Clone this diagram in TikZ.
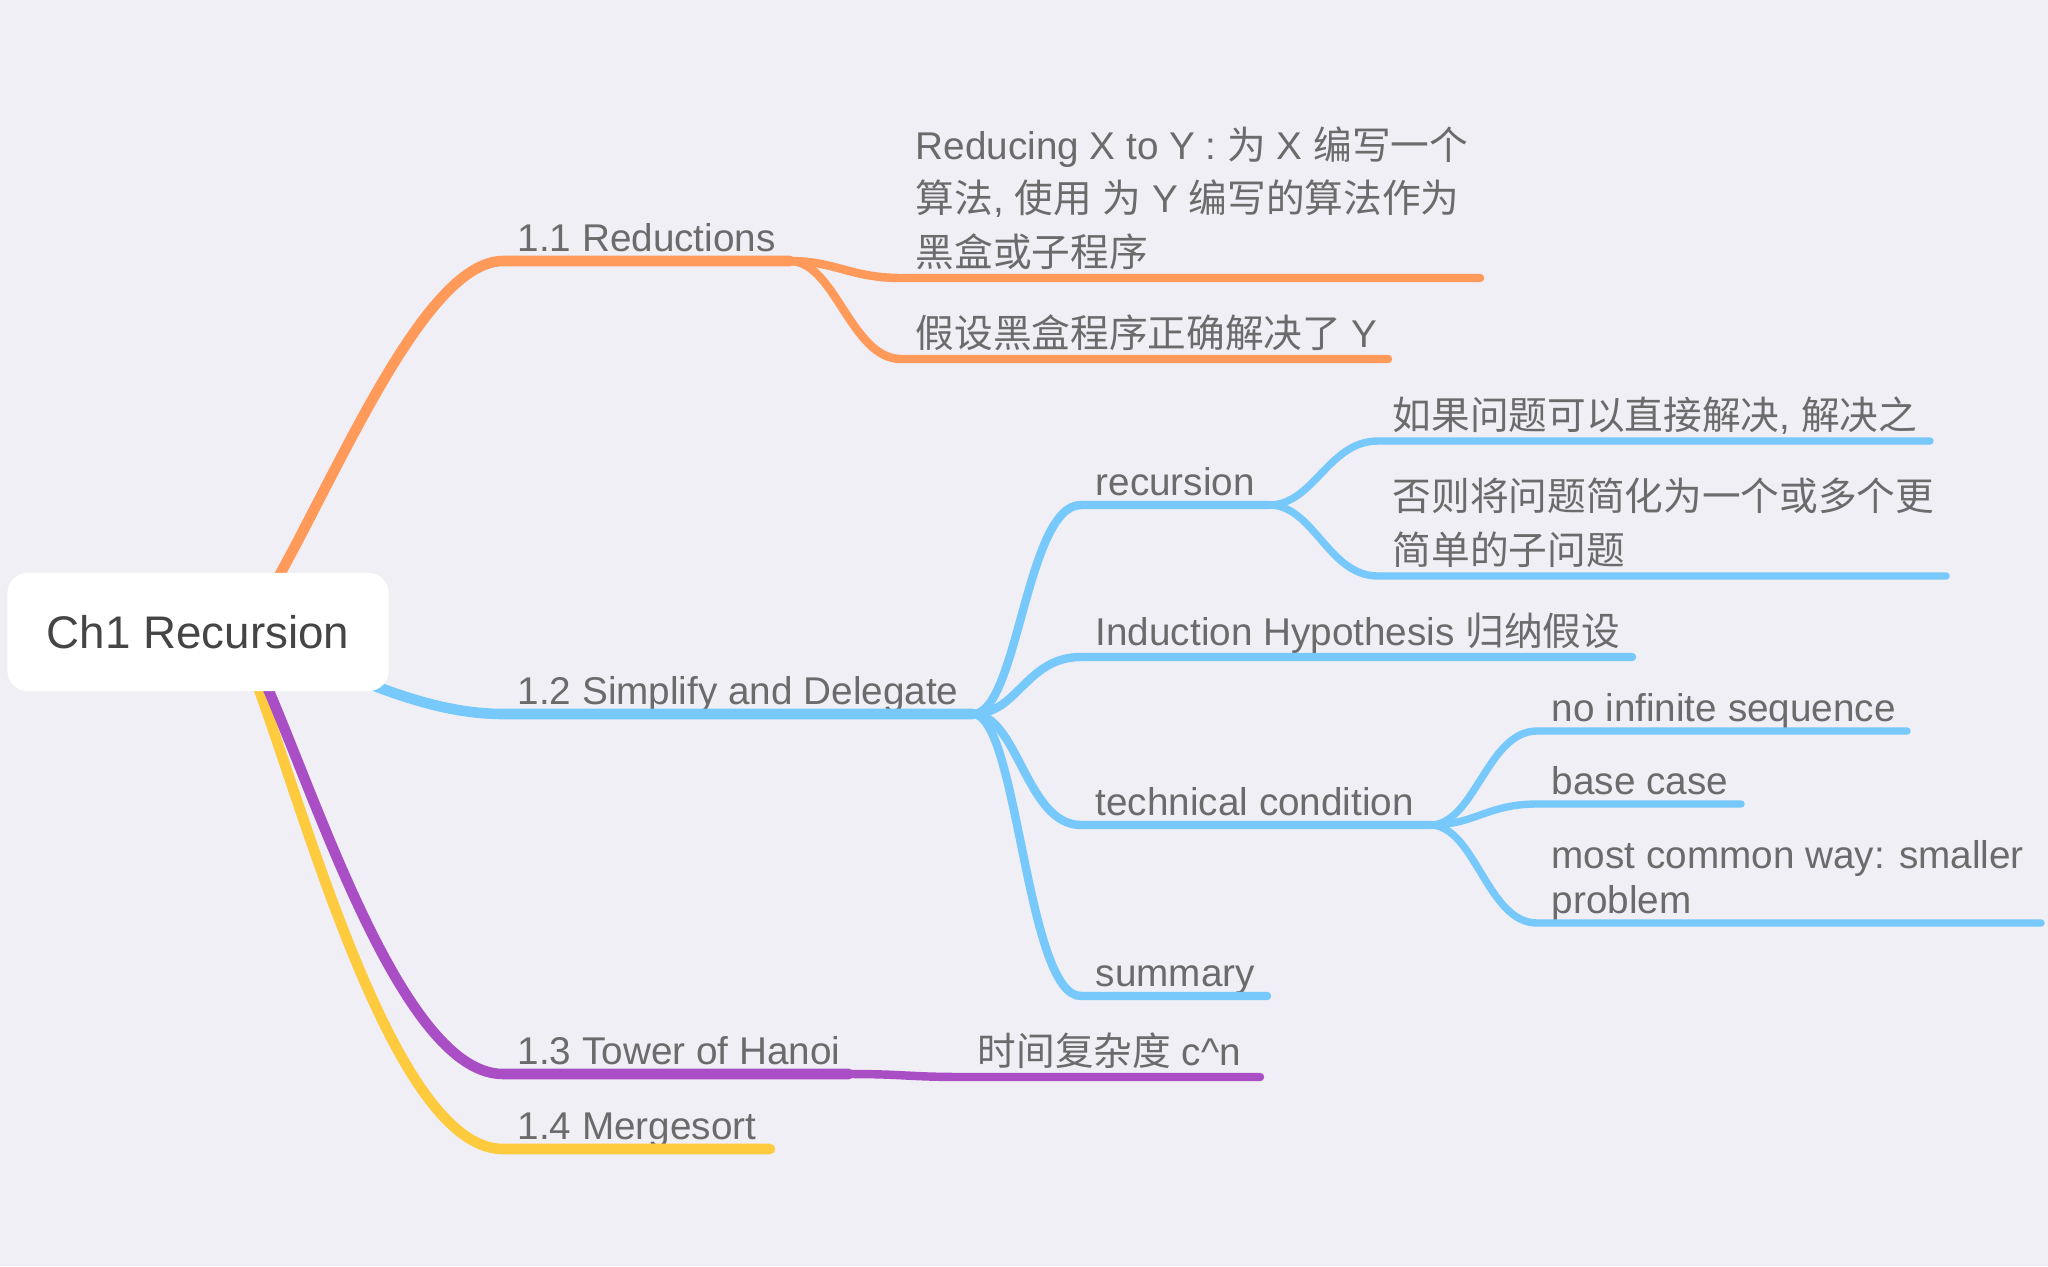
\documentclass[tikz,border=0pt]{standalone}
\usepackage{fontspec}
\setmainfont{Liberation Sans}
\newfontfamily\cjk{Noto Sans CJK SC}
\newcommand{\zh}[1]{{\cjk #1}}
\definecolor{bgc}{HTML}{EFEFF5}
\definecolor{txt}{HTML}{6B6B6B}
\definecolor{rootc}{HTML}{454545}
\definecolor{orng}{HTML}{FF9A5A}
\definecolor{blu}{HTML}{77C8FB}
\definecolor{purp}{HTML}{AA4EC6}
\definecolor{yell}{HTML}{FFCB3E}

\begin{document}
\begin{tikzpicture}[x=0.01cm,y=-0.01cm,
    root/.style={fill=white, rounded corners=0.2cm, minimum width=3.81cm, minimum height=1.18cm,
                 font=\fontsize{13}{15}\selectfont, text=rootc},
    topic/.style={anchor=south west, inner xsep=0.14cm, inner ysep=0pt, text depth=0.085cm,
                  align=left, text=txt, font=\fontsize{11}{15.2}\selectfont},
    zhtopic/.style={topic, text depth=0.11cm},
    trunk/.style={line width=3pt, line cap=round},
    twig/.style={line width=2.4pt, line cap=round},
    leaf/.style={line width=2.1pt, line cap=round}]
    \useasboundingbox (0,0) rectangle (2048,1266);
    \fill[bgc] (0,0) rectangle (2048,1266);
    \coordinate (rc) at (198,632);
    % Place nodes
    \node[topic] (n11) at (503,261) {1.1 Reductions};
    \node[zhtopic] (n11a) at (901,278) {Reducing X to Y : \zh{为} X \zh{编写一个}\\
        \zh{算法}, \zh{使用} \zh{为} Y \zh{编写的算法作为}\\
        \zh{黑盒或子程序}};
    \node[zhtopic] (n11b) at (901,359) {\zh{假设黑盒程序正确解决了} Y};
    \node[topic] (n12) at (503,714) {1.2 Simplify and Delegate};
    \node[topic] (rec) at (1081,505) {recursion};
    \node[zhtopic] (rec1) at (1378,441) {\zh{如果问题可以直接解决}, \zh{解决之}};
    \node[zhtopic] (rec2) at (1378,576) {\zh{否则将问题简化为一个或多个更}\\
        \zh{简单的子问题}};
    \node[zhtopic] (ind) at (1081,657) {Induction Hypothesis \zh{归纳假设}};
    \node[topic] (tech) at (1081,825) {technical condition};
    \node[topic] (tc1) at (1537,731) {no infinite sequence};
    \node[topic] (tc2) at (1537,804) {base case};
    \node[topic, font=\fontsize{11}{12.8}\selectfont] (tc3) at (1537,923) {most common way: smaller\\problem};
    \node[topic] (summ) at (1081,996) {summary};
    \node[topic] (n13) at (503,1074) {1.3 Tower of Hanoi};
    \node[zhtopic] (n13a) at (963,1077) {\zh{时间复杂度} c\textasciicircum n};
    \node[topic] (n14) at (503,1149) {1.4 Mergesort};
    % line ends
    \coordinate (e-n11) at (790,261);
    \coordinate (e-n11a) at (1480,278);
    \coordinate (e-n11b) at (1388,359);
    \coordinate (e-n12) at (973,714);
    \coordinate (e-rec) at (1269,505);
    \coordinate (e-rec1) at (1930,441);
    \coordinate (e-rec2) at (1946,576);
    \coordinate (e-ind) at (1632,657);
    \coordinate (e-tech) at (1430,825);
    \coordinate (e-tc1) at (1907,731);
    \coordinate (e-tc2) at (1741,804);
    \coordinate (e-tc3) at (2041,923);
    \coordinate (e-summ) at (1267,996);
    \coordinate (e-n13) at (849,1074);
    \coordinate (e-n13a) at (1260,1077);
    \coordinate (e-n14) at (770,1149);
    % Draw edges
    \draw[trunk,yell] ([shift={(40,8)}]rc) .. controls +(45,80) and +(-123,0) .. (n14.south west) -- (e-n14);
    \draw[trunk,purp] ([shift={(46,8)}]rc) .. controls +(50,80) and +(-113,0) .. (n13.south west) -- (e-n13);
    \draw[twig,purp] (e-n13) .. controls +(55,0) and +(-55,0) .. (n13a.south west) -- (e-n13a);
    \draw[trunk,orng] ([shift={(40,8)}]rc) .. controls +(67,-80) and +(-93,0) .. (n11.south west) -- (e-n11);
    \draw[twig,orng] (e-n11) .. controls +(45,0) and +(-50,0) .. (n11a.south west) -- (e-n11a);
    \draw[twig,orng] (e-n11) .. controls +(45,0) and +(-50,0) .. (n11b.south west) -- (e-n11b);
    \draw[trunk,blu] ([shift={(102,23)}]rc) .. controls +(60,25) and +(-73,0) .. (n12.south west) -- (e-n12);
    \draw[twig,blu] (e-n12) .. controls +(45,0) and +(-55,0) .. (rec.south west) -- (e-rec);
    \draw[twig,blu] (e-n12) .. controls +(45,0) and +(-55,0) .. (ind.south west) -- (e-ind);
    \draw[twig,blu] (e-n12) .. controls +(45,0) and +(-55,0) .. (tech.south west) -- (e-tech);
    \draw[twig,blu] (e-n12) .. controls +(45,0) and +(-55,0) .. (summ.south west) -- (e-summ);
    \draw[leaf,blu] (e-rec) .. controls +(45,0) and +(-50,0) .. (rec1.south west) -- (e-rec1);
    \draw[leaf,blu] (e-rec) .. controls +(45,0) and +(-50,0) .. (rec2.south west) -- (e-rec2);
    \draw[leaf,blu] (e-tech) .. controls +(45,0) and +(-50,0) .. (tc1.south west) -- (e-tc1);
    \draw[leaf,blu] (e-tech) .. controls +(45,0) and +(-50,0) .. (tc2.south west) -- (e-tc2);
    \draw[leaf,blu] (e-tech) .. controls +(45,0) and +(-50,0) .. (tc3.south west) -- (e-tc3);
    \node[root] (root) at (rc) {Ch1 Recursion};
\end{tikzpicture}
\end{document}
